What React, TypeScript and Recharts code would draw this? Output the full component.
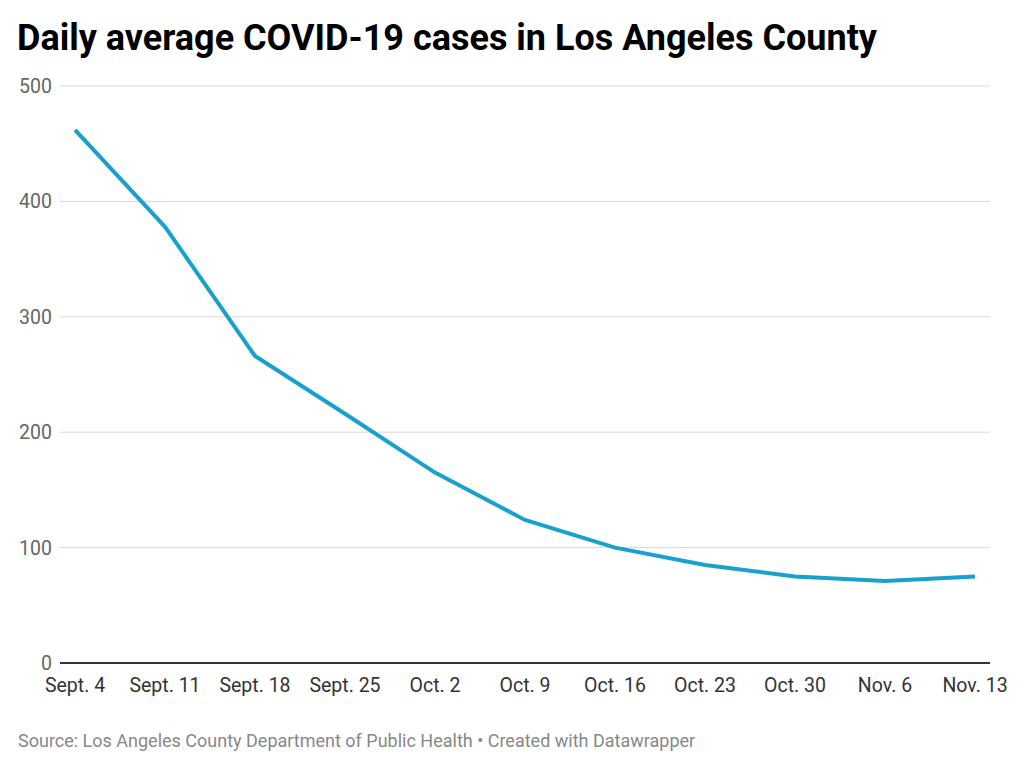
import React from "react";
import { LineChart, Line, XAxis, YAxis, CartesianGrid } from "recharts";

const dates = ["Sept. 4", "Sept. 11", "Sept. 18", "Sept. 25", "Oct. 2", "Oct. 9", "Oct. 16", "Oct. 23", "Oct. 30", "Nov. 6", "Nov. 13"];
const cases = [462, 378, 266, 216, 165, 124, 100, 85, 75, 71, 75];
const yTicks = [0, 100, 200, 300, 400, 500];

const data = dates.map((d, i) => ({ date: d, cases: cases[i] }));

const FONT = "Roboto, 'Noto Sans', sans-serif";

const XTick = (props: any) => {
  const { x, y, payload } = props;
  return (
    <text x={x} y={y} dy={21} textAnchor="middle" fill="#333333" fontSize={19.5} fontFamily={FONT}>
      {payload.value}
    </text>
  );
};

const YTick = (props: any) => {
  const { x, y, payload } = props;
  return (
    <text x={x} y={y} dy={7} textAnchor="end" fill="#666666" fontSize={19.5} fontFamily={FONT}>
      {payload.value}
    </text>
  );
};

export default function App() {
  return (
    <div style={{ position: "absolute", left: 0, top: 0, width: 1024, height: 768, background: "#fff", fontFamily: FONT }}>
      <div style={{ position: "absolute", left: 17, top: 20, fontSize: 36, lineHeight: "36px", fontWeight: 700, color: "#000", whiteSpace: "nowrap" }}>
        Daily average COVID-19 cases in Los Angeles County
      </div>
      <LineChart width={1024} height={768} data={data} margin={{ top: 86, right: 34, left: 18, bottom: 75 }}>
        <CartesianGrid vertical={false} stroke="#d9d9d9" strokeWidth={1} />
        <XAxis
          dataKey="date"
          height={30}
          padding={{ left: 15, right: 15 }}
          tickLine={false}
          axisLine={{ stroke: "#333333", strokeWidth: 2 }}
          tick={<XTick />}
          interval={0}
        />
        <YAxis
          width={42}
          domain={[0, 500]}
          ticks={yTicks}
          axisLine={false}
          tickLine={false}
          tick={<YTick />}
          interval={0}
        />
        <Line type="linear" dataKey="cases" stroke="#18a1cd" strokeWidth={4} dot={false} isAnimationActive={false} />
      </LineChart>
      <div style={{ position: "absolute", left: 18, top: 732, fontSize: 18, lineHeight: "18px", color: "#888888", whiteSpace: "nowrap" }}>
        Source: Los Angeles County Department of Public Health • Created with Datawrapper
      </div>
    </div>
  );
}
